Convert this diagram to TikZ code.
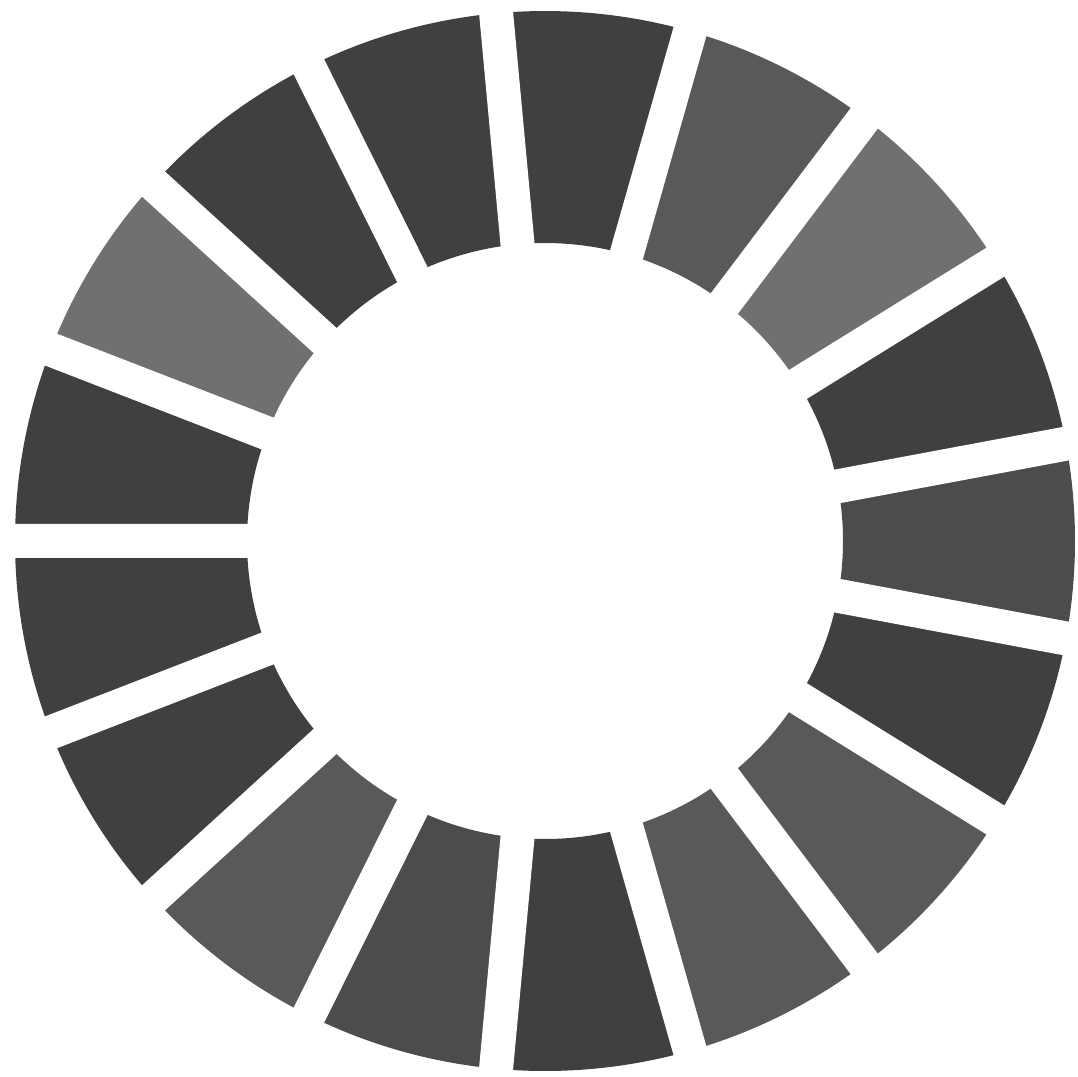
\documentclass[tikz,border=0pt]{standalone}
\usetikzlibrary{calc}
\definecolor{segdark}{gray}{0.25}
\definecolor{segmd}{gray}{0.30}
\definecolor{segmid}{gray}{0.35}
\definecolor{seglight}{gray}{0.44}
\begin{document}
\begin{tikzpicture}
  \useasboundingbox (0,0) rectangle (10.78,10.76);
  \def\cx{5.45}    % centre of the ring
  \def\cy{5.35}
  \def\Ro{5.30}    % outer radius
  \def\Ri{2.98}    % inner radius
  \def\da{21.176}  % 360/17
  \def\gap{0.34}   % width of the white slots
  \begin{scope}[shift={(\cx,\cy)}]
    % 17 ring pieces
    \foreach \i/\c in {0/segmd,1/segdark,2/seglight,3/segmid,4/segdark,5/segdark,
                       6/segdark,7/seglight,8/segdark,9/segdark,10/segdark,11/segmid,
                       12/segmd,13/segdark,14/segmid,15/segmid,16/segdark} {
      \pgfmathsetmacro\a{\i*\da-\da/2}
      \pgfmathsetmacro\b{\i*\da+\da/2}
      \fill[\c] (\a:\Ri) -- (\a:\Ro) arc[start angle=\a, end angle=\b, radius=\Ro]
        -- (\b:\Ri) arc[start angle=\b, end angle=\a, radius=\Ri] -- cycle;
    }
    % slots of constant width
    \foreach \i in {0,...,16}
      \draw[white, line width=\gap cm] (\i*\da+\da/2:\Ri-0.3) -- (\i*\da+\da/2:\Ro+0.3);
  \end{scope}
\end{tikzpicture}
\end{document}
